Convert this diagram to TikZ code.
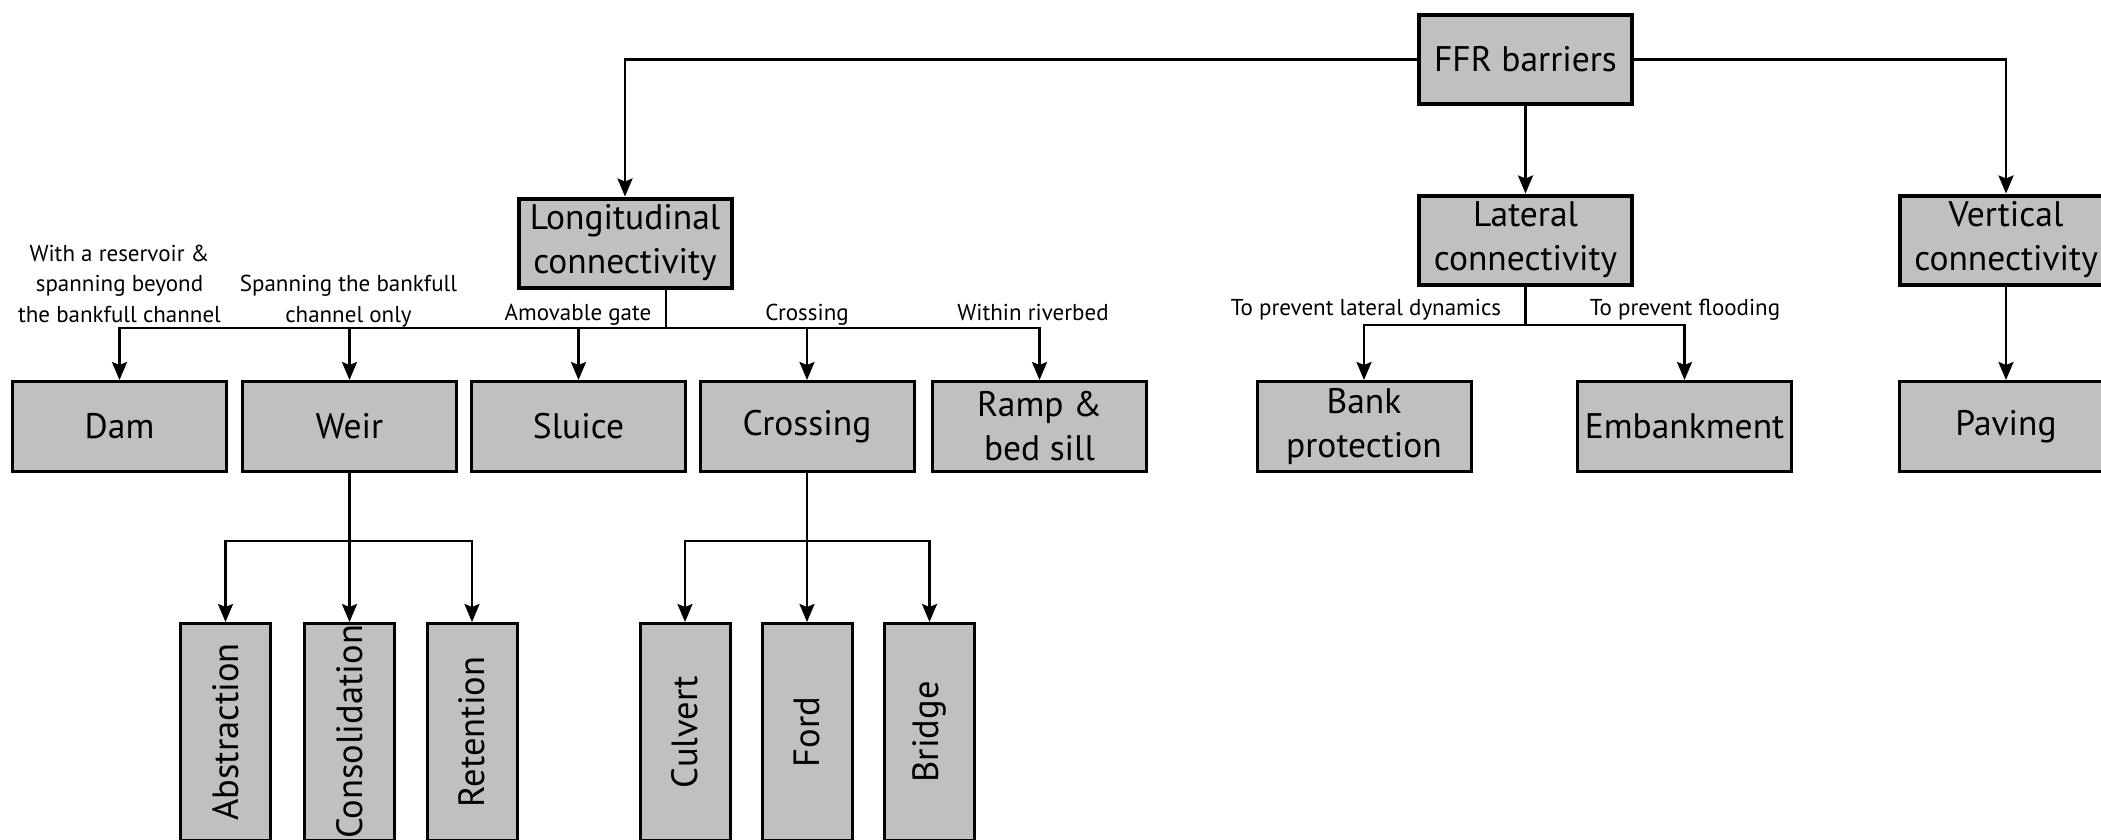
\documentclass[tikz,border=0pt]{standalone}
\usepackage{fontspec}
\setmainfont{PT Sans}
\usetikzlibrary{arrows.meta}
\definecolor{boxgray}{RGB}{192,192,192}
\begin{document}
\begin{tikzpicture}[x=1pt,y=-1pt,
  topbox/.style={draw, line width=4pt, fill=boxgray, minimum width=213pt, minimum height=89pt, align=center, inner sep=0pt, font=\fontsize{35.5}{44}\selectfont},
  midbox/.style={draw, line width=3pt, fill=boxgray, minimum width=214pt, minimum height=90pt, align=center, inner sep=0pt, font=\fontsize{35.5}{44}\selectfont},
  lowbox/.style={draw, line width=3pt, fill=boxgray, minimum width=217pt, minimum height=90pt, inner sep=0pt, rotate=90, font=\fontsize{36.5}{44}\selectfont},
  lbl/.style={align=center, inner sep=0pt, anchor=base, font=\fontsize{23}{30.5}\selectfont},
  ln/.style={line width=2.5pt},
  arr/.style={line width=2.5pt, -{Stealth[length=18pt,width=15pt,inset=3pt]}}
]
\clip (0,0) rectangle (2101,840);
% top level
\node[topbox] (ffr) at (1525.5,59.5) {FFR barriers};
\node[topbox] (long) at (625,243) {Longitudinal\\connectivity};
\node[topbox] (lat) at (1525.5,240) {Lateral\\connectivity};
\node[topbox] (vert) at (2006,240) {Vertical\\connectivity};
% second level
\node[midbox] (dam) at (119.5,426.5) {Dam};
\node[midbox] (weir) at (349.5,426.5) {Weir};
\node[midbox] (sluice) at (578.5,426.5) {Sluice};
\node[midbox] (cross) at (807,426.5) {Crossing};
\node[midbox] (ramp) at (1039.5,426.5) {Ramp \&\\bed sill};
\node[midbox] (bank) at (1364,426.5) {Bank\\protection};
\node[midbox] (emb) at (1684.5,426.5) {Embankment};
\node[midbox] (pav) at (2006,426.5) {Paving};
% third level
\node[lowbox] (abs) at (225.5,732) {Abstraction};
\node[lowbox] (cons) at (349.5,732) {Consolidation};
\node[lowbox] (ret) at (472,732) {Retention};
\node[lowbox] (culv) at (685,732) {Culvert};
\node[lowbox] (ford) at (807,732) {Ford};
\node[lowbox] (bridge) at (929.5,732) {Bridge};
% labels
\node[lbl] (l1) at (119.5,322) {With a reservoir \&\\spanning beyond\\the bankfull channel};
\node[lbl] (l2) at (348.5,322) {Spanning the bankfull\\channel only};
\node[lbl] (l3) at (578,320) {Amovable gate};
\node[lbl] (l4) at (807,320) {Crossing};
\node[lbl] (l5) at (1033,320) {Within riverbed};
\node[lbl] (l6) at (1366,315) {To prevent lateral dynamics};
\node[lbl] (l7) at (1685,315) {To prevent flooding};
% connectors top
\draw[arr] (ffr.west) -| (long.north);
\draw[arr] (ffr.east) -| (vert.north);
\draw[arr] (ffr.south) -- (lat.north);
% longitudinal bus
\coordinate (lb) at (666,328);
\draw[ln] (long.south -| lb) -- (lb);
\draw[arr] (lb) -| (dam.north);
\draw[arr] (lb) -| (weir.north);
\draw[arr] (lb) -| (sluice.north);
\draw[arr] (lb) -| (cross.north);
\draw[arr] (lb) -| (ramp.north);
% lateral bus
\coordinate (latb) at (1525.5,325);
\draw[ln] (lat.south) -- (latb);
\draw[arr] (latb) -| (bank.north);
\draw[arr] (latb) -| (emb.north);
% vertical
\draw[arr] (vert.south) -- (pav.north);
% weir bus
\coordinate (wb) at (349.5,541);
\draw[ln] (weir.south) -- (wb);
\draw[arr] (wb) -| (abs.east);
\draw[arr] (weir.south) -- (cons.east);
\draw[arr] (wb) -| (ret.east);
% crossing bus
\coordinate (cb) at (807,541);
\draw[ln] (cross.south) -- (cb);
\draw[arr] (cb) -| (culv.east);
\draw[arr] (cross.south) -- (ford.east);
\draw[arr] (cb) -| (bridge.east);
\end{tikzpicture}
\end{document}
